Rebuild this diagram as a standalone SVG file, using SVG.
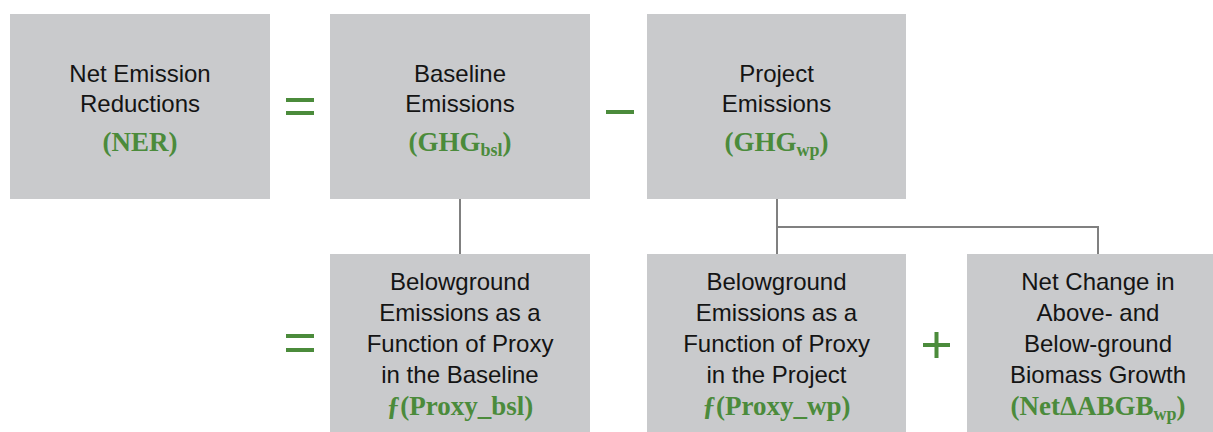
<svg xmlns="http://www.w3.org/2000/svg" width="1213" height="432" viewBox="0 0 1213 432">
<style>
.box{fill:#c9cacc}
.t{font-family:"Liberation Sans",Arial,sans-serif;font-size:24px;fill:#141414;text-anchor:middle}
.g{font-family:"Liberation Serif","Times New Roman",serif;font-size:27px;font-weight:bold;fill:#4b8b3b;text-anchor:middle}
.sub{font-size:18px}
.op{fill:#4b8b3b}
.conn{stroke:#808080;stroke-width:2;fill:none}
</style>
<rect width="1213" height="432" fill="#ffffff"/>
<g id="connectors">
<path class="conn" d="M460 199V254"/>
<path class="conn" d="M777 199V254M777 227H1098V254"/>
</g>
<g id="operators">
<rect class="op" x="286" y="98" width="28" height="4"/>
<rect class="op" x="286" y="111" width="28" height="4"/>
<rect class="op" x="606" y="110" width="28" height="4"/>
<rect class="op" x="286" y="334" width="28" height="4"/>
<rect class="op" x="286" y="348" width="28" height="4"/>
<rect class="op" x="923" y="343" width="27" height="4"/>
<rect class="op" x="934.5" y="332" width="4" height="26"/>
</g>
<g id="ner">
<rect class="box" x="10" y="14" width="260" height="185"/>
<text class="t" x="140" y="82">Net Emission</text>
<text class="t" x="140" y="112">Reductions</text>
<text class="g" x="140" y="151">(NER)</text>
</g>
<g id="baseline">
<rect class="box" x="330" y="14" width="260" height="185"/>
<text class="t" x="460" y="82">Baseline</text>
<text class="t" x="460" y="112">Emissions</text>
<text class="g" x="460" y="151">(GHG<tspan class="sub" dy="5">bsl</tspan><tspan dy="-5">)</tspan></text>
</g>
<g id="project">
<rect class="box" x="647" y="14" width="259" height="185"/>
<text class="t" x="776.5" y="82">Project</text>
<text class="t" x="776.5" y="112">Emissions</text>
<text class="g" x="776.5" y="151">(GHG<tspan class="sub" dy="5">wp</tspan><tspan dy="-5">)</tspan></text>
</g>
<g id="proxy-bsl">
<rect class="box" x="330" y="254" width="260" height="178"/>
<text class="t" x="460" y="290">Belowground</text>
<text class="t" x="460" y="321">Emissions as a</text>
<text class="t" x="460" y="352">Function of Proxy</text>
<text class="t" x="460" y="383">in the Baseline</text>
<text class="g" x="460" y="415">ƒ(Proxy_bsl)</text>
</g>
<g id="proxy-wp">
<rect class="box" x="647" y="254" width="259" height="178"/>
<text class="t" x="776.5" y="290">Belowground</text>
<text class="t" x="776.5" y="321">Emissions as a</text>
<text class="t" x="776.5" y="352">Function of Proxy</text>
<text class="t" x="776.5" y="383">in the Project</text>
<text class="g" x="776.5" y="415">ƒ(Proxy_wp)</text>
</g>
<g id="abgb">
<rect class="box" x="967" y="254" width="246" height="178"/>
<text class="t" x="1098" y="290">Net Change in</text>
<text class="t" x="1098" y="321">Above- and</text>
<text class="t" x="1098" y="352">Below-ground</text>
<text class="t" x="1098" y="383">Biomass Growth</text>
<text class="g" x="1098" y="415">(NetΔABGB<tspan class="sub" dy="5">wp</tspan><tspan dy="-5">)</tspan></text>
</g>
</svg>
